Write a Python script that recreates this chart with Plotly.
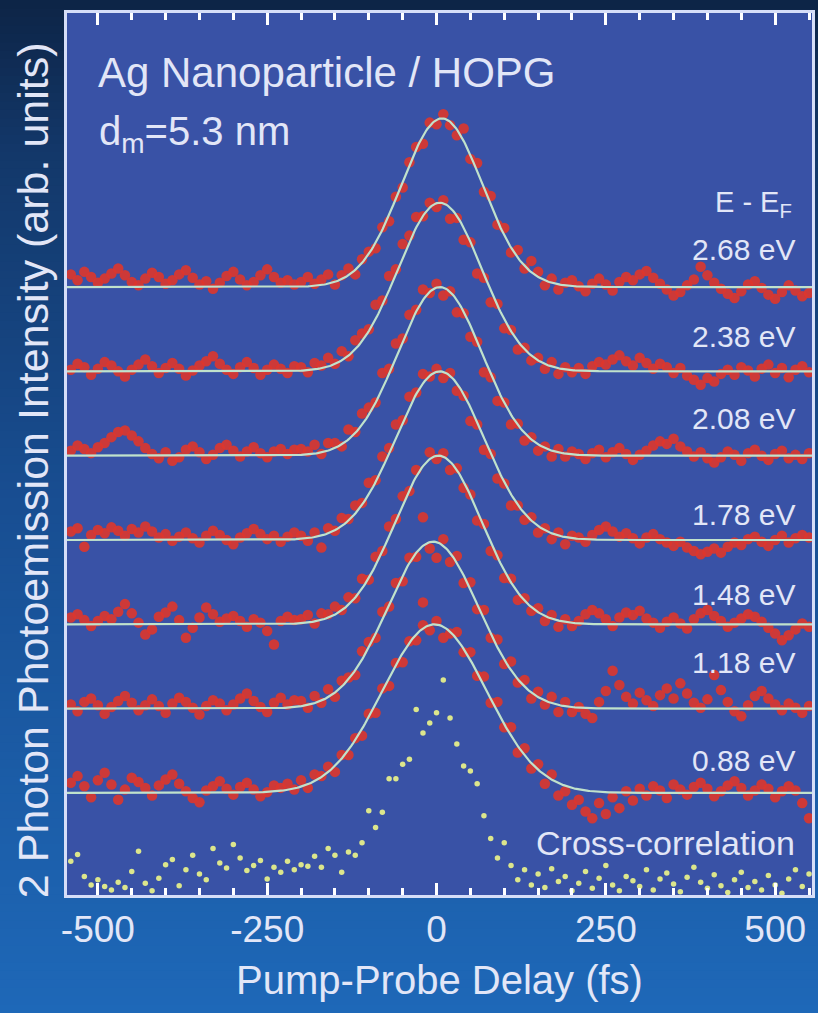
import plotly.graph_objects as go
import numpy as np

# ---------------------------------------------------------------- data
# pump-probe delay grid (fs)
delay_fs = list(range(-540, 551, 10))

energies = ["2.68", "2.38", "2.08", "1.78", "1.48", "1.18", "0.88"]
baseline = [7.21, 6.21, 5.21, 4.21, 3.21, 2.21, 1.21]      # vertical offset of each trace
label_y = [7.65, 6.62, 5.65, 4.51, 3.56, 2.76, 1.60]       # y of the "x.xx eV" labels

# Gaussian fit parameters per trace
fit_center = [8, 5, 5, 5, 3, -5, -3]          # fs
fit_fwhm = [141, 146, 147, 153, 151, 158, 181]  # fs
fit_amp = [2.0, 2.0, 2.0, 2.0, 2.0, 1.98, 2.0]

# 2PPE intensity (arb. units, background subtracted) for each E - E_F
i_268 = [0.15, 0.08, 0.18, 0.12, 0.05, 0.10, 0.16, 0.22, 0.14, 0.06,
         0.02, 0.10, 0.17, 0.12, 0.04, 0.08, 0.15, 0.20, 0.11, 0.03,
         0.07, -0.02, 0.05, 0.13, 0.18, 0.09, 0.02, 0.06, 0.14, 0.21,
         0.12, 0.05, 0.08, 0.03,
         0.06, 0.12, 0.04, 0.09, 0.15, 0.03, 0.14, 0.22, 0.15, 0.33,
         0.42, 0.46, 0.71, 0.78, 1.07, 1.18, 1.48, 1.66, 1.70, 1.95,
         1.93, 2.05, 1.92, 1.80, 1.88, 1.52, 1.47, 1.13, 1.08, 0.74,
         0.70, 0.41, 0.44, 0.22, 0.31, 0.18, 0.02, 0.10, -0.03, 0.05,
         0.08,
         0.01, -0.05, 0.04, 0.10, 0.03, -0.04, 0.06, 0.12, 0.08, 0.15,
         0.19, 0.11, 0.04, -0.03, -0.10, -0.06, 0.02, 0.09, 0.24, 0.14,
         0.05, -0.02, -0.08, -0.13, -0.05, 0.03, 0.07, -0.01, -0.09, -0.14,
         -0.06, 0.02, -0.04, -0.11, -0.07]

i_238 = [0.02, 0.09, 0.05, -0.04, 0.03, 0.11, 0.07, 0.00, -0.06, 0.02,
         0.08, 0.14, 0.06, -0.02, 0.04, 0.10, 0.03, -0.05, 0.01, 0.07,
         0.12, 0.18, 0.09, 0.02, -0.03, 0.05, 0.11, 0.04, -0.04, 0.02,
         0.08, 0.03, -0.02, 0.06,
         0.05, -0.01, 0.10, 0.07, 0.16, 0.09, 0.24, 0.18, 0.37, 0.45,
         0.50, 0.79, 0.84, 1.13, 1.21, 1.51, 1.61, 1.83, 1.84, 2.00,
         1.95, 2.03, 1.81, 1.82, 1.56, 1.53, 1.16, 1.11, 0.82, 0.80,
         0.51, 0.49, 0.26, 0.28, 0.13, 0.16, 0.03, 0.11, -0.03, 0.05,
         -0.01,
         0.04, -0.03, 0.06, 0.11, 0.08, 0.14, 0.19, 0.12, 0.07, 0.16,
         0.10, 0.03, 0.09, 0.05, -0.02, 0.04, -0.05, -0.10, -0.16, -0.08,
         -0.12, -0.03, 0.02, -0.04, 0.05, 0.01, -0.06, 0.03, 0.08, -0.02,
         0.04, -0.07, 0.02, 0.06, -0.01]

i_208 = [0.06, 0.12, 0.08, 0.03, 0.10, 0.15, 0.22, 0.28, 0.30, 0.24,
         0.17, 0.09, 0.02, -0.03, 0.04, -0.06, -0.02, 0.07, 0.11, 0.04,
         -0.04, 0.01, 0.09, 0.13, 0.06, -0.01, 0.05, 0.10, 0.03, -0.02,
         0.05, 0.08, 0.02, 0.07,
         0.08, 0.05, 0.13, 0.02, 0.15, 0.15, 0.11, 0.31, 0.28, 0.50,
         0.57, 0.63, 0.98, 1.03, 1.33, 1.39, 1.67, 1.73, 1.97, 1.93,
         2.04, 1.90, 1.95, 1.70, 1.69, 1.41, 1.35, 0.99, 0.93, 0.65,
         0.63, 0.37, 0.38, 0.18, 0.22, 0.06, 0.11, -0.01, 0.08, -0.01,
         0.05,
         0.02, -0.04, 0.03, 0.07, -0.02, 0.04, 0.09, 0.02, -0.05, 0.01,
         0.06, 0.12, 0.17, 0.14, 0.20, 0.11, 0.05, -0.01, 0.04, -0.03,
         -0.08, -0.02, 0.05, 0.01, -0.06, 0.03, 0.07, 0.00, -0.05, 0.02,
         0.06, -0.03, 0.01, -0.04, 0.03]

i_178 = [0.10, 0.14, -0.08, 0.06, 0.12, 0.08, 0.15, 0.11, 0.05, 0.13,
         0.09, 0.16, 0.10, 0.03, 0.07, -0.01, 0.04, 0.09, 0.02, -0.03,
         0.05, 0.11, 0.06, 0.00, -0.05, 0.03, 0.08, 0.13, 0.07, 0.01,
         0.05, -0.02, 0.04, 0.09,
         0.05, -0.01, 0.09, -0.09, 0.14, 0.11, 0.26, 0.25, 0.41, 0.44,
         0.68, 0.71, 0.99, 1.09, 1.37, 1.42, 1.70, 1.75, 1.97, 1.94,
         2.03, 1.92, 1.98, 1.77, 1.71, 1.41, 1.37, 1.07, 1.02, 0.73,
         0.67, 0.41, 0.41, 0.24, 0.27, 0.09, 0.14, 0.01, 0.09, -0.05,
         0.05,
         0.03, -0.02, 0.06, 0.12, 0.16, 0.10, 0.04, 0.08, 0.02, -0.04,
         0.03, 0.07, 0.01, -0.03, -0.07, -0.02, -0.09, -0.13, -0.17, -0.14,
         -0.10, -0.15, -0.08, -0.03, -0.06, 0.01, 0.04, -0.02, -0.07, 0.00,
         0.05, -0.03, 0.02, 0.06, 0.03]

i_148 = [0.08, 0.12, 0.05, -0.02, 0.04, 0.10, 0.06, 0.15, 0.24, 0.13,
         0.02, -0.12, -0.06, 0.09, 0.14, 0.21, 0.05, -0.16, -0.04, 0.08,
         0.20, 0.12, 0.03, 0.07, 0.10, 0.04, -0.03, 0.06, 0.02, -0.08,
         -0.24, 0.04, 0.09, 0.05,
         0.06, 0.11, 0.01, 0.13, 0.12, 0.21, 0.17, 0.32, 0.31, 0.54,
         0.53, 0.80, 0.87, 1.16, 1.25, 1.52, 1.58, 1.83, 1.27, 2.04,
         1.96, 2.03, 1.83, 1.85, 1.62, 1.54, 1.23, 1.19, 0.87, 0.82,
         0.55, 0.54, 0.29, 0.31, 0.16, 0.19, 0.04, 0.11, -0.03, 0.06,
         -0.02,
         0.04, 0.12, 0.17, 0.13, 0.06, -0.02, 0.08, 0.14, 0.11, 0.16,
         0.07, 0.02, -0.04, 0.03, 0.08, 0.01, -0.05, 0.06, 0.13, 0.17,
         0.10, 0.04, -0.03, 0.02, 0.07, 0.12, 0.09, 0.03, -0.04, -0.11,
         -0.19, -0.13, -0.06, 0.01, -0.03]

i_118 = [0.05, -0.03, 0.08, 0.12, 0.04, -0.06, 0.02, 0.09, 0.15, 0.07,
         -0.02, 0.04, 0.11, 0.03, -0.05, 0.06, 0.13, 0.08, 0.01, -0.07,
         0.03, 0.10, 0.06, -0.02, 0.05, 0.12, 0.18, 0.09, 0.02, -0.04,
         0.07, 0.13, 0.05, 0.10,
         0.09, 0.01, 0.15, 0.07, 0.23, 0.14, 0.33, 0.37, 0.40, 0.68,
         0.79, 0.84, 1.15, 1.21, 1.49, 1.51, 1.79, 1.80, 1.26, 1.90,
         1.79, 2.01, 1.74, 1.81, 1.49, 1.50, 1.18, 1.17, 0.84, 0.82,
         0.53, 0.56, 0.31, 0.34, 0.12, 0.20, 0.05, 0.14, -0.04, 0.08,
         -0.04,
         0.02, -0.06, -0.11, 0.08, 0.21, 0.45, 0.28, 0.14, 0.06, 0.19,
         0.10, 0.03, 0.16, 0.24, 0.12, 0.30, 0.18, 0.07, 0.01, 0.11,
         0.40, 0.22, 0.08, -0.03, -0.09, 0.04, 0.15, 0.21, 0.12, 0.05,
         -0.02, 0.06, 0.01, -0.05, 0.03]

i_088 = [0.12, 0.20, 0.08, -0.05, 0.15, 0.24, 0.10, -0.08, 0.04, 0.18,
         0.13, 0.06, -0.03, 0.09, 0.16, 0.22, 0.11, 0.02, -0.06, -0.11,
         0.03, 0.08, 0.14, 0.05, -0.02, 0.07, 0.12, 0.04, -0.04, 0.01,
         0.09, 0.06, 0.11, 0.04,
         0.15, 0.06, 0.22, 0.20, 0.31, 0.25, 0.45, 0.45, 0.65, 0.68,
         0.94, 0.95, 1.24, 1.27, 1.54, 1.55, 1.80, 1.81, 1.99, 1.93,
         2.04, 1.84, 1.89, 1.91, 1.67, 1.67, 1.39, 1.38, 1.07, 1.08,
         0.78, 0.78, 0.48, 0.53, 0.29, 0.34, 0.11, 0.22, -0.03, 0.02,
         -0.14,
         -0.08, -0.22, -0.30, -0.12, -0.25, -0.05, -0.18, 0.02, -0.09, 0.05,
         -0.03, 0.08, 0.03, -0.06, 0.10, 0.04, -0.02, 0.07, 0.12, 0.05,
         -0.04, 0.02, 0.09, 0.14, 0.06, -0.03, 0.03, 0.10, 0.05, -0.05,
         0.02, 0.08, 0.03, -0.12, -0.30]

# laser cross-correlation (plotted from the bottom axis)
cross_corr = [0.40, 0.48, 0.22, 0.12, 0.18, 0.10, 0.06, 0.15, 0.09, 0.28,
              0.52, 0.14, 0.05, 0.20, 0.36, 0.42, 0.11, 0.30, 0.47, 0.25,
              0.18, 0.55, 0.38, 0.32, 0.60, 0.44, 0.29, 0.35, 0.41, 0.19,
              0.33, 0.27, 0.40, 0.30,
              0.36, 0.34, 0.46, 0.33, 0.55, 0.47, 0.27, 0.51, 0.47, 0.62,
              1.00, 0.80, 0.98, 1.38, 1.38, 1.55, 1.61, 2.20, 1.92, 2.04,
              2.16, 2.55, 2.10, 1.79, 1.53, 1.47, 1.32, 0.94, 0.67, 0.44,
              0.62, 0.35, 0.18, 0.30, 0.12, 0.25, 0.09, 0.31, 0.16, 0.22,
              0.05,
              0.14, 0.28, 0.08, 0.20, 0.35, 0.12, 0.05, 0.22, 0.17, 0.10,
              0.30, 0.06, 0.19, 0.26, 0.13, 0.04, 0.21, 0.33, 0.15, 0.08,
              0.24, 0.11, 0.03, 0.18, 0.27, 0.09, 0.16, 0.06, 0.23, 0.12,
              0.02, 0.19, 0.30, 0.10, 0.25]

intensities = [i_268, i_238, i_208, i_178, i_148, i_118, i_088]

# axis ticks
tick_vals = [-500, -250, 0, 250, 500]
tick_text = ["-500", "-250", "0", "250", "500"]
minor_tick_vals = [v for v in range(-550, 551, 50) if v % 250 != 0]

# ---------------------------------------------------------------- style
FONT = "Liberation Sans, Arial, Helvetica, sans-serif"
TEXT_COLOR = "rgb(226,230,247)"
FRAME_COLOR = "rgb(214,222,248)"
TICK_COLOR = "white"
PLOT_BG = "rgb(57,82,166)"
DOT_RED = "rgba(222,54,44,0.9)"
FIT_COLOR = "rgb(192,226,204)"
XC_COLOR = "rgb(220,230,140)"

X_RANGE = [-545.6, 554.4]
Y_RANGE = [0, 10.46]

fig = go.Figure()

# measured points
for e, off, vals in zip(energies, baseline, intensities):
    fig.add_trace(go.Scatter(
        x=delay_fs, y=[off + v for v in vals], mode="markers",
        marker=dict(size=10.5, color=DOT_RED, line=dict(width=0)),
        name=f"{e} eV", showlegend=False, hoverinfo="skip"))

# cross-correlation (on the companion x axis, same delay scale)
fig.add_trace(go.Scatter(
    x=delay_fs, y=cross_corr, mode="markers", xaxis="x2", yaxis="y",
    marker=dict(size=5.5, color=XC_COLOR, line=dict(width=0)),
    name="Cross-correlation", showlegend=False, hoverinfo="skip"))

# Gaussian fits
t_fit = np.linspace(X_RANGE[0], X_RANGE[1], 551)
for off, c, w, a in zip(baseline, fit_center, fit_fwhm, fit_amp):
    y_fit = off + a * np.exp(-4 * np.log(2) * (t_fit - c) ** 2 / w ** 2)
    fig.add_trace(go.Scatter(
        x=t_fit, y=y_fit, mode="lines",
        line=dict(color=FIT_COLOR, width=2.2),
        showlegend=False, hoverinfo="skip"))

# ---------------------------------------------------------------- background
# vertical blue gradient behind the whole figure
W, H = 818, 1013
ML, MR, MT, MB = 67, 3, 13, 118
plot_w, plot_h = W - ML - MR, H - MT - MB
stops = [(0.0, (13, 36, 70)), (0.15, (19, 56, 106)), (0.5, (24, 78, 146)),
         (1.0, (30, 104, 184))]


def grad_color(f):
    for (f0, c0), (f1, c1) in zip(stops[:-1], stops[1:]):
        if f <= f1:
            t = (f - f0) / (f1 - f0)
            return "rgb(%d,%d,%d)" % tuple(round(c0[k] + t * (c1[k] - c0[k])) for k in range(3))
    return "rgb(%d,%d,%d)" % stops[-1][1]


shapes = []
n_strips = 120
for k in range(n_strips):
    py0 = H * k / n_strips
    py1 = H * (k + 1) / n_strips + 1
    shapes.append(dict(
        type="rect", xref="paper", yref="paper", layer="below",
        x0=-0.2, x1=1.2,
        y0=(H - MB - py1) / plot_h, y1=(H - MB - py0) / plot_h,
        fillcolor=grad_color((k + 0.5) / n_strips), line=dict(width=0)))
shapes.append(dict(type="rect", xref="x domain", yref="y domain", layer="below",
                   x0=0, x1=1, y0=0, y1=1, fillcolor=PLOT_BG, line=dict(width=0)))

# ---------------------------------------------------------------- labels
annotations = [
    dict(text="Ag Nanoparticle / HOPG", x=(96 - ML) / plot_w, y=(H - MB - 72) / plot_h,
         xref="paper", yref="paper", xanchor="left", yanchor="middle",
         showarrow=False, font=dict(size=42, color=TEXT_COLOR, family=FONT)),
    dict(text="d<sub>m</sub>=5.3 nm", x=(97 - ML) / plot_w, y=(H - MB - 134) / plot_h,
         xref="paper", yref="paper", xanchor="left", yanchor="middle",
         showarrow=False, font=dict(size=40, color=TEXT_COLOR, family=FONT)),
    dict(text="E - E<sub>F</sub>", x=528, y=8.2, xref="x", yref="y",
         xanchor="right", yanchor="middle", showarrow=False,
         font=dict(size=29, color=TEXT_COLOR, family=FONT)),
    dict(text="Cross-correlation", x=532, y=0.62, xref="x", yref="y",
         xanchor="right", yanchor="middle", showarrow=False,
         font=dict(size=34, color=TEXT_COLOR, family=FONT)),
    dict(text="2 Photon Photoemission Intensity (arb. units)", textangle=-90,
         x=(33 - ML) / plot_w, y=(H - MB - 470) / plot_h,
         xref="paper", yref="paper", xanchor="center", yanchor="middle",
         showarrow=False, font=dict(size=43, color=TEXT_COLOR, family=FONT)),
]
for e, ly in zip(energies, label_y):
    annotations.append(dict(text=f"{e} eV", x=532, y=ly, xref="x", yref="y",
                            xanchor="right", yanchor="middle", showarrow=False,
                            font=dict(size=30, color=TEXT_COLOR, family=FONT)))

fig.update_layout(
    width=W, height=H, autosize=False,
    margin=dict(l=ML, r=MR, t=MT, b=MB, pad=0),
    paper_bgcolor="rgb(22,70,130)",
    plot_bgcolor="rgba(0,0,0,0)",
    shapes=shapes, annotations=annotations,
    font=dict(family=FONT, color=TEXT_COLOR),
    xaxis=dict(
        range=X_RANGE, tickmode="array", tickvals=tick_vals, ticktext=tick_text,
        ticks="inside", ticklen=12, tickwidth=3, tickcolor=TICK_COLOR,
        showline=True, linewidth=3, linecolor=FRAME_COLOR, mirror="ticks",
        showgrid=False, zeroline=False,
        tickfont=dict(size=37, color=TEXT_COLOR, family=FONT),
        title=dict(text="Pump-Probe Delay (fs)", standoff=17,
                   font=dict(size=40, color=TEXT_COLOR, family=FONT)),
    ),
    # companion axis carrying the 50 fs minor ticks (bottom and top)
    xaxis2=dict(
        overlaying="x", anchor="y", side="bottom", range=X_RANGE,
        tickmode="array", tickvals=minor_tick_vals, showticklabels=False,
        ticks="inside", ticklen=7, tickwidth=2.5, tickcolor=TICK_COLOR,
        showline=True, linewidth=3, linecolor=FRAME_COLOR, mirror="ticks",
        showgrid=False, zeroline=False,
    ),
    yaxis=dict(
        range=Y_RANGE, showticklabels=False, ticks="",
        showline=True, linewidth=3, linecolor=FRAME_COLOR, mirror=True,
        showgrid=False, zeroline=False,
    ),
)

fig.write_html("out.html")
